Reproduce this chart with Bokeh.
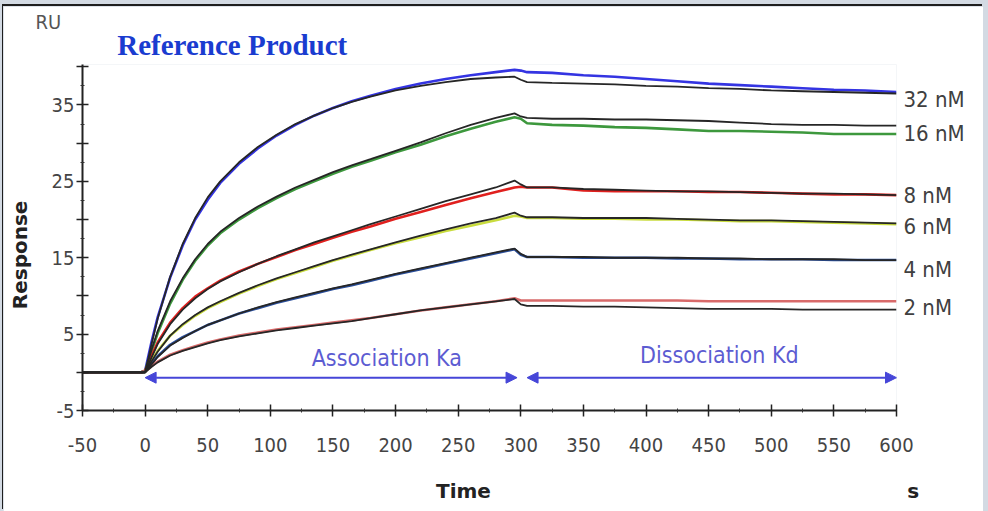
from bokeh.plotting import figure
from bokeh.layouts import column
from bokeh.models import Label, Arrow, NormalHead, FixedTicker, LinearAxis, Range1d
from bokeh.embed import file_html
from bokeh.resources import INLINE

# ---------------- data ----------------
CONCENTRATIONS = ["32 nM", "16 nM", "8 nM", "6 nM", "4 nM", "2 nM"]

T_ASSOC = [-50, -3, 0, 5, 10, 20, 30, 40, 50, 60, 75, 90, 105, 120, 135, 150,
           165, 180, 200, 220, 240, 260, 280, 295]
T_DISS = [300, 305, 325, 350, 375, 400, 425, 450, 475, 500, 525, 550, 575, 600]

# measured (coloured) curves
DATA_32_ASSOC = [0, 0, 0.2, 3.9, 7.2, 12.4, 16.6, 20.0, 22.6, 24.8, 27.3, 29.3, 31.0, 32.4,
                 33.6, 34.6, 35.5, 36.2, 37.1, 37.8, 38.4, 38.9, 39.3, 39.6]
DATA_32_DISS = [39.5, 39.3, 39.2, 38.9, 38.7, 38.4, 38.1, 37.8, 37.6, 37.4, 37.2, 37.0, 36.9, 36.7]
DATA_16_ASSOC = [0, 0, 0.2, 2.7, 5.1, 9.0, 12.1, 14.6, 16.6, 18.2, 20.0, 21.5, 22.8, 24.0,
                 25.0, 26.0, 26.9, 27.7, 28.8, 29.8, 30.9, 31.9, 32.8, 33.4]
DATA_16_DISS = [33.2, 32.6, 32.4, 32.3, 32.1, 32.0, 31.8, 31.6, 31.6, 31.5, 31.4, 31.2, 31.2, 31.2]
DATA_8_ASSOC = [0, 0, 0.2, 2.1, 3.9, 6.5, 8.4, 9.9, 11.0, 12.0, 13.2, 14.2, 15.1, 16.0,
                16.8, 17.6, 18.4, 19.1, 20.1, 21.0, 21.9, 22.8, 23.6, 24.2]
DATA_8_DISS = [24.3, 24.2, 24.2, 23.8, 23.7, 23.7, 23.7, 23.6, 23.6, 23.5, 23.4, 23.3, 23.3, 23.2]
DATA_6_ASSOC = [0, 0, 0.1, 1.5, 2.8, 4.8, 6.2, 7.4, 8.4, 9.2, 10.3, 11.3, 12.2, 13.0,
                13.8, 14.6, 15.3, 16.0, 16.9, 17.7, 18.5, 19.2, 19.9, 20.5]
DATA_6_DISS = [20.4, 20.2, 20.2, 20.1, 20.1, 20.0, 20.0, 19.9, 19.8, 19.8, 19.7, 19.6, 19.5, 19.4]
DATA_4_ASSOC = [0, 0, 0.1, 1.1, 2.1, 3.6, 4.6, 5.4, 6.2, 6.8, 7.7, 8.4, 9.1, 9.7,
                10.3, 10.9, 11.4, 12.0, 12.8, 13.5, 14.2, 14.9, 15.6, 16.1]
DATA_4_DISS = [15.4, 15.1, 15.1, 15.0, 15.0, 15.0, 14.9, 14.9, 14.8, 14.8, 14.8, 14.7, 14.7, 14.7]
DATA_2_ASSOC = [0, 0, 0.1, 0.8, 1.4, 2.3, 2.9, 3.4, 3.9, 4.3, 4.8, 5.2, 5.6, 5.9,
                6.2, 6.5, 6.8, 7.1, 7.6, 8.1, 8.5, 8.9, 9.3, 9.7]
DATA_2_DISS = [9.4, 9.4, 9.4, 9.4, 9.4, 9.4, 9.4, 9.3, 9.3, 9.3, 9.3, 9.3, 9.3, 9.3]

# fitted (black) curves
FIT_32_ASSOC = [0, 0, 0, 3.6, 7.0, 12.5, 16.8, 20.2, 22.9, 25.0, 27.5, 29.5, 31.1, 32.5,
                33.6, 34.6, 35.4, 36.1, 36.9, 37.5, 38.0, 38.4, 38.6, 38.7]
FIT_32_DISS = [38.3, 38.0, 37.9, 37.8, 37.7, 37.5, 37.4, 37.2, 37.1, 36.9, 36.8, 36.7, 36.6, 36.5]
FIT_16_ASSOC = [0, 0, 0, 2.9, 5.4, 9.3, 12.3, 14.8, 16.8, 18.4, 20.2, 21.7, 23.0, 24.2,
                25.2, 26.2, 27.1, 27.9, 29.0, 30.1, 31.3, 32.4, 33.3, 33.9]
FIT_16_DISS = [33.5, 33.3, 33.2, 33.2, 33.1, 33.1, 33.0, 32.9, 32.7, 32.5, 32.4, 32.4, 32.3, 32.3]
FIT_8_ASSOC = [0, 0, 0, 1.9, 3.7, 6.3, 8.2, 9.7, 10.9, 11.9, 13.1, 14.2, 15.2, 16.1,
               17.0, 17.8, 18.6, 19.4, 20.4, 21.4, 22.4, 23.3, 24.2, 25.1]
FIT_8_DISS = [24.6, 24.2, 24.2, 24.0, 23.9, 23.8, 23.7, 23.7, 23.6, 23.5, 23.4, 23.4, 23.3, 23.2]
FIT_6_ASSOC = [0, 0, 0, 1.4, 2.7, 4.8, 6.3, 7.5, 8.5, 9.3, 10.4, 11.4, 12.3, 13.1,
               13.9, 14.7, 15.4, 16.1, 17.0, 17.9, 18.7, 19.5, 20.2, 20.9]
FIT_6_DISS = [20.5, 20.3, 20.3, 20.2, 20.2, 20.2, 20.1, 20.0, 19.9, 19.9, 19.8, 19.7, 19.6, 19.5]
FIT_4_ASSOC = [0, 0, 0, 1.0, 2.0, 3.5, 4.5, 5.4, 6.2, 6.8, 7.7, 8.5, 9.2, 9.8,
               10.4, 11.0, 11.5, 12.1, 12.9, 13.6, 14.3, 15.0, 15.7, 16.2]
FIT_4_DISS = [15.5, 15.1, 15.1, 15.1, 15.0, 15.0, 15.0, 14.9, 14.9, 14.8, 14.8, 14.8, 14.7, 14.7]
FIT_2_ASSOC = [0, 0, 0, 0.7, 1.3, 2.2, 2.8, 3.3, 3.8, 4.2, 4.7, 5.1, 5.5, 5.8,
               6.1, 6.4, 6.7, 7.1, 7.6, 8.1, 8.5, 8.9, 9.3, 9.6]
FIT_2_DISS = [8.9, 8.7, 8.7, 8.6, 8.6, 8.5, 8.4, 8.3, 8.3, 8.3, 8.2, 8.2, 8.2, 8.2]

X_TICKS = list(range(-50, 601, 50))
Y_TICKS = list(range(-5, 41, 5))
Y_LABELLED = [-5, 5, 15, 25, 35]

# ---------------- styling / layout ----------------
DATA_COLORS = ["#3434e2", "#3d983d", "#e0201e", "#c9dc3e", "#2a4f9c", "#d86a6a"]
# positions of the right-hand concentration labels (label axis units = response x 100)
CONC_LABEL_POS = [3573, 3130, 2320, 1915, 1340, 845]
SERIES = [
    (DATA_32_ASSOC + DATA_32_DISS, FIT_32_ASSOC + FIT_32_DISS),
    (DATA_16_ASSOC + DATA_16_DISS, FIT_16_ASSOC + FIT_16_DISS),
    (DATA_8_ASSOC + DATA_8_DISS, FIT_8_ASSOC + FIT_8_DISS),
    (DATA_6_ASSOC + DATA_6_DISS, FIT_6_ASSOC + FIT_6_DISS),
    (DATA_4_ASSOC + DATA_4_DISS, FIT_4_ASSOC + FIT_4_DISS),
    (DATA_2_ASSOC + DATA_2_DISS, FIT_2_ASSOC + FIT_2_DISS),
]
TIME = T_ASSOC + T_DISS
FIT_COLOR = "#262626"
ARROW_COLOR = "#4646d8"
TEXT_BLUE = "#5c5cd2"
COND = "DejaVu Sans Condensed"
NB = "\u00a0"

p = figure(width=980, height=505, x_range=(-50, 600), y_range=(-5, 40.3),
           output_backend="svg", toolbar_location=None, title=None,
           min_border_left=79, min_border_right=87, min_border_top=57,
           min_border_bottom=101, margin=(6, 5, 0, 3))
p.background_fill_color = "white"
p.border_fill_color = "white"
p.outline_line_color = None
p.grid.visible = False
p.extra_x_ranges = {"lab": Range1d(0, 1000)}
p.extra_y_ranges = {"laby": Range1d(-500, 4030)}

for (data, fit), col in zip(SERIES, DATA_COLORS):
    p.line(TIME, data, line_color=col, line_width=2.6)
for data, fit in SERIES:
    p.line(TIME, fit, line_color=FIT_COLOR, line_width=1.8)

# main axes
p.xaxis.ticker = FixedTicker(ticks=X_TICKS, minor_ticks=[t + 25 for t in X_TICKS[:-1]])
p.yaxis.ticker = FixedTicker(ticks=Y_TICKS, minor_ticks=[t + 2.5 for t in Y_TICKS[:-1]])
p.yaxis.major_label_overrides = {t: ("" if t not in Y_LABELLED else str(t)) for t in Y_TICKS}
p.xaxis.major_label_overrides = {t: str(t) for t in X_TICKS}
for ax in (p.xaxis[0], p.yaxis[0]):
    ax.axis_line_color = "#222222"
    ax.axis_line_width = 2
    ax.major_tick_line_color = "#222222"
    ax.major_tick_line_width = 1.5
    ax.major_tick_in = 6
    ax.major_tick_out = 6
    ax.minor_tick_line_color = "#333333"
    ax.minor_tick_in = 2
    ax.minor_tick_out = 2
    ax.major_label_text_font = COND
    ax.major_label_text_font_size = "20px"
    ax.major_label_text_color = "#444444"
p.xaxis.major_label_standoff = 21
p.yaxis.major_label_standoff = 2
p.yaxis.axis_label = "Response" + NB * 5
p.yaxis.axis_label_text_font = "DejaVu Sans"
p.yaxis.axis_label_text_font_style = "bold"
p.yaxis.axis_label_text_font_size = "20px"
p.yaxis.axis_label_text_color = "#222222"
p.yaxis.axis_label_standoff = 17


def text_axis(loc, ticks, labels, font, size, color, style, standoff, rng):
    kw = {"x_range_name": rng} if loc in ("above", "below") else {"y_range_name": rng}
    ax = LinearAxis(ticker=FixedTicker(ticks=ticks, minor_ticks=[]),
                    major_label_overrides=dict(zip(ticks, labels)), **kw)
    ax.axis_line_color = None
    ax.major_tick_line_color = None
    ax.minor_tick_line_color = None
    ax.major_tick_in = 0
    ax.major_tick_out = 0
    ax.major_label_standoff = standoff
    ax.major_label_text_font = font
    ax.major_label_text_font_size = size
    ax.major_label_text_color = color
    ax.major_label_text_font_style = style
    p.add_layout(ax, loc)


# concentration labels on the right
text_axis("right", CONC_LABEL_POS, CONCENTRATIONS, COND, "22px", "#404040", "normal", 7, "laby")
# Time and unit below
text_axis("below", [468, 999], ["Time", NB * 5 + "s"], "DejaVu Sans", "20px", "#222222",
          "bold", 24, "lab")
# title and RU above
text_axis("above", [184], ["Reference Product"], "Liberation Serif", "29px", "#1a3cd0",
          "bold", 4, "lab")
text_axis("above", [0], ["RU" + NB * 12], COND, "20px", "#555555", "normal", -8, "lab")

# arrows
def head():
    return NormalHead(size=11, fill_color=ARROW_COLOR, line_color=ARROW_COLOR)

p.add_layout(Arrow(start=head(), end=head(), x_start=0, y_start=-0.7, x_end=297, y_end=-0.7,
                   line_color=ARROW_COLOR, line_width=2))
p.add_layout(Arrow(start=head(), end=head(), x_start=305, y_start=-0.7, x_end=600, y_end=-0.7,
                   line_color=ARROW_COLOR, line_width=2))

p.add_layout(Label(x=193, y=1.92, text="Association Ka", text_font=COND, text_font_size="23px",
                   text_color=TEXT_BLUE, text_align="center", text_baseline="middle"))
p.add_layout(Label(x=458.5, y=2.31, text="Dissociation Kd", text_font=COND,
                   text_font_size="23px", text_color=TEXT_BLUE, text_align="center",
                   text_baseline="middle"))

p.styles = {"box-shadow": "-1px -2px 0 0 #1e1e1e"}
layout = column(p, width=988, height=511, styles={"background-color": "#d3dae3"})

open("out.html", "w").write(file_html(layout, INLINE))
